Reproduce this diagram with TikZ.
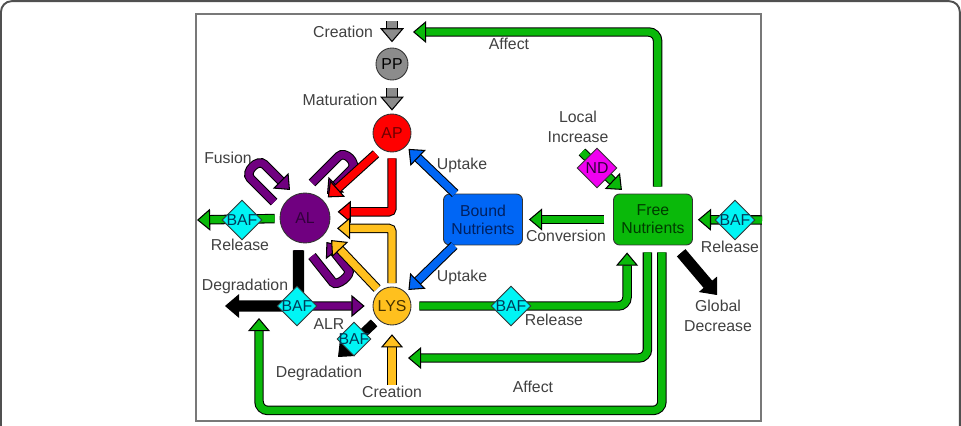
\documentclass[tikz,border=0pt]{standalone}
\usepackage{fontspec}
\setmainfont{Liberation Sans}
\usetikzlibrary{arrows.meta,shapes.geometric}
\definecolor{grnc}{RGB}{10,185,10}
\definecolor{cyanc}{RGB}{0,245,245}
\definecolor{purc}{RGB}{112,0,128}
\definecolor{redc}{RGB}{255,0,0}
\definecolor{ylwc}{RGB}{255,192,30}
\definecolor{bluc}{RGB}{0,102,245}
\definecolor{gryc}{RGB}{140,140,140}
\definecolor{magc}{RGB}{240,0,240}
\definecolor{txtc}{RGB}{64,64,64}
\definecolor{framec}{RGB}{80,80,80}
\definecolor{boxc}{RGB}{120,120,120}
\definecolor{navy}{RGB}{0,32,96}
\definecolor{dkgrn}{RGB}{0,60,0}
\definecolor{dkred}{RGB}{110,0,0}
\definecolor{dkpur}{RGB}{50,0,60}
\definecolor{dkylw}{RGB}{70,50,0}
\definecolor{bafc}{RGB}{0,60,90}
\tikzset{
  lbl/.style={text=txtc, font=\fontsize{9}{11.3}\selectfont, inner sep=1pt, align=center},
  stn/.style={circle, draw=black!80, line width=0.5pt, inner sep=0pt, font=\fontsize{9}{11}\selectfont},
  nbox/.style={rectangle, rounded corners=3.5pt, draw=black!80, line width=0.5pt, minimum width=1.58cm,
    minimum height=1.02cm, inner sep=0pt, align=center, font=\fontsize{9}{10.2}\selectfont},
  baf/.style={diamond, draw=black!80, line width=0.5pt, fill=cyanc, inner sep=0pt, minimum size=0.8cm,
    label={[lbl,text=bafc,inner sep=0pt]center:BAF}},
  blk/.style={draw=black, line width=0.6pt, double=#1, double distance=4.2pt, rounded corners=2pt,
    -{Triangle[length=7.5pt,width=12.5pt,fill=#1,line width'=0.6pt]}},
  wblk/.style={draw=black, line width=0.6pt, double=#1, double distance=5.2pt, rounded corners=2pt,
    -{Triangle[length=8pt,width=13.5pt,fill=#1,line width'=0.6pt]}}
}
\begin{document}
\begin{tikzpicture}[x=0.02cm,y=-0.02cm]
  \useasboundingbox (0,0) rectangle (961,426);
  \draw[framec, line width=1.1pt, rounded corners=6pt] (1,430) -- (1,1.2) -- (959.8,1.2) -- (959.8,430);
  \draw[boxc, line width=0.8pt] (196,14) rectangle (761,421);

  % compartments
  \node[stn, fill=gryc, minimum size=0.64cm] (pp) at (392,64) {PP};
  \node[stn, fill=redc, minimum size=0.76cm, text=dkred] (ap) at (392,133) {AP};
  \node[stn, fill=purc, minimum size=1.0cm, text=dkpur] (al) at (305,218) {AL};
  \node[stn, fill=ylwc, minimum size=0.76cm, text=dkylw] (lys) at (392,306) {LYS};
  \node[nbox, fill=bluc, text=navy] (bound) at (483,219.5) {Bound\\Nutrients};
  \node[nbox, fill=grnc, text=dkgrn] (free) at (653,219.5) {Free\\Nutrients};

  % free ends
  \coordinate (crTail) at (392,21);
  \coordinate (affTip) at (413,32);
  \coordinate (relLTip) at (197,220);
  \coordinate (relRTail) at (762,220);
  \coordinate (degTip) at (225,306);
  \coordinate (ldTip) at (338,357);
  \coordinate (lcTail) at (392,385);
  \coordinate (aff2Tip) at (408,358);
  \coordinate (loopTip) at (259,318);
  \coordinate (ndTail) at (582,152);
  \coordinate (gdTip) at (717,295);

  % creation, maturation
  \draw[wblk=gryc, shorten >=3pt] (crTail) -- (pp);
  \draw[wblk=gryc, shorten <=4.5pt, shorten >=1.7pt] (pp) -- (ap);

  % fusion loops
  \draw[blk=purc] ([shift={(-31,-16)}]al.center) -- ++(-21,-21) .. controls +(-9,-9) and +(-9,-9) .. ++(14,-14) -- ++(23,23);
  \draw[blk=purc] ([shift={(7,-35)}]al.center) -- ++(24,-24) .. controls +(9,-9) and +(9,-9) .. ++(13,13) -- ++(-22,22);
  \draw[blk=purc] ([shift={(7,38)}]al.center) -- ++(18.6,23.4) .. controls +(6.2,7.8) and +(6.2,7.8) .. ++(15.6,-12.4) -- ++(-19.8,-25);

  % AP, LYS -> AL
  \draw[blk=redc, shorten <=4pt, shorten >=3pt] (ap.236) -- (al);
  \draw[blk=redc, shorten <=3.4pt, shorten >=4.5pt] (ap.south) |- (al.14);
  \draw[blk=ylwc, shorten <=2pt, shorten >=5pt] (lys.north) |- (al.-24);
  \draw[blk=ylwc, shorten <=2pt, shorten >=5pt] (lys.130) -- (al.-38);
  \draw[blk=ylwc, shorten >=5pt] (lcTail) -- (lys);

  % ALR, degradation
  \draw[blk=purc, shorten <=4.5pt, shorten >=4.5pt] (al.-105) |- (lys);
  \draw[wblk=black, shorten <=4.5pt] (al.-105) |- (degTip);
  \draw[blk=black, shorten <=3pt] (lys) -- (ldTip);

  % nutrients
  \draw[blk=grnc, rounded corners=5pt, shorten <=4pt] (free.80) |- (affTip);
  \draw[blk=grnc, shorten <=5pt, shorten >=3.4pt] (free) -- (bound);
  \draw[blk=grnc, shorten >=2.8pt] (relRTail) -- (free);
  \draw[blk=grnc, shorten <=2.8pt] (al) -- (relLTip);
  \draw[blk=grnc, rounded corners=5pt, shorten <=4.5pt, shorten >=4pt] (lys) -| (free.-135.5);
  \draw[blk=grnc, rounded corners=5pt, shorten <=4pt] (free.-102) |- (aff2Tip);
  \draw[blk=grnc, rounded corners=5pt, shorten <=4pt] (free.-71.6) -- ++(0,165) -| (loopTip);
  \draw[blk=grnc, shorten >=3pt] (ndTail) -- (free);
  \draw[wblk=black, shorten <=5.5pt] (free) -- (gdTip);
  \draw[blk=bluc, shorten >=2pt] (bound.137) -- (ap);
  \draw[blk=bluc, shorten >=2pt] (bound.222) -- (lys);

  % factors
  \node[baf] (bafL) at (242,220) {};
  \node[baf] (bafR) at (735,220) {};
  \node[baf] (bafD) at (297,306) {};
  \node[baf] (bafS) at (511,306) {};
  \node[baf, minimum size=0.68cm] (bafY) at (354,339) {};
  \node[diamond, draw=black!80, line width=0.5pt, fill=magc, inner sep=0pt, minimum size=0.8cm,
    label={[lbl,text=dkpur,inner sep=0pt]center:ND}] (nd) at (597,168) {};

  % labels
  \node[lbl] (creaA) at (343,32) {Creation};
  \node[lbl] (matu) at (340,100) {Maturation};
  \node[lbl] (fus) at (228,158) {Fusion};
  \node[lbl] (upA) at (462,165) {Uptake};
  \node[lbl] (upB) at (462,277) {Uptake};
  \node[lbl] (relA) at (240,245) {Release};
  \node[lbl] (degA) at (245,286) {Degradation};
  \node[lbl] (alr) at (329,324) {ALR};
  \node[lbl] (degB) at (319,373) {Degradation};
  \node[lbl] (creaB) at (392,392) {Creation};
  \node[lbl] (conv) at (566,236) {Conversion};
  \node[lbl] (relB) at (554,320) {Release};
  \node[lbl] (relC) at (730,247) {Release};
  \node[lbl] (glob) at (718,316) {Global\\Decrease};
  \node[lbl] (affA) at (509,44) {Affect};
  \node[lbl] (affB) at (533,387) {Affect};
  \node[lbl] (loc) at (578,127) {Local\\Increase};
\end{tikzpicture}
\end{document}
